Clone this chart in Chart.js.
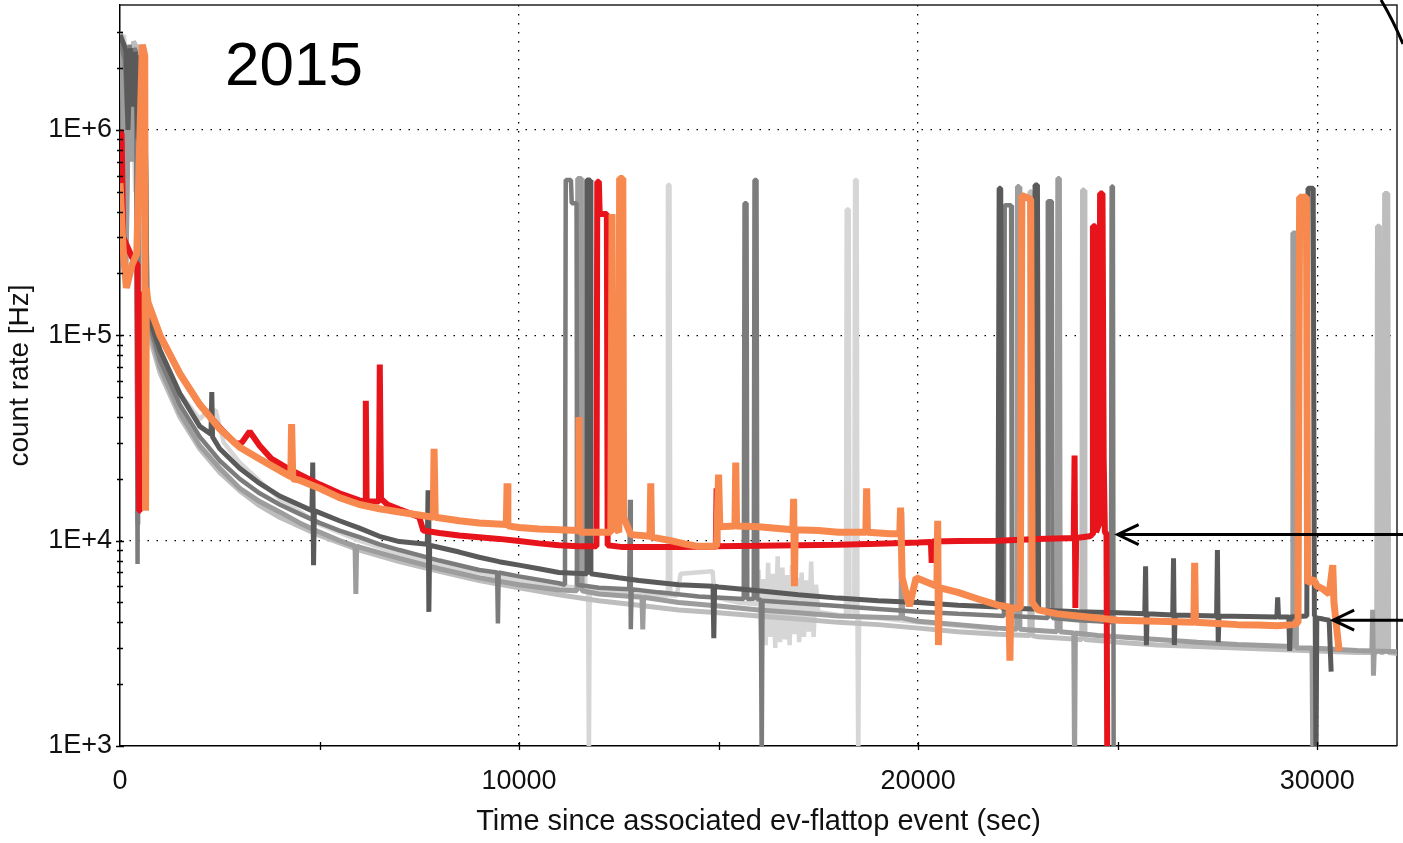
<!DOCTYPE html>
<html>
<head>
<meta charset="utf-8">
<script src="https://cdn.jsdelivr.net/npm/chart.js@4/dist/chart.umd.min.js"></script>
<style>
  html, body { margin: 0; padding: 0; background: #fff; overflow: hidden; }
  #wrap { width: 1403px; height: 843px; position: relative; }
</style>
</head>
<body>
<div id="wrap"><canvas id="c" width="1403" height="843"></canvas></div>
<script>
// ---- tick values and labels ----
const xTickValues = [0, 5000, 10000, 15000, 20000, 25000, 30000];
const xMajorTicks = [0, 10000, 20000, 30000];
const xTickLabels = ['0', '10000', '20000', '30000'];
const yMajorTicks = [1e3, 1e4, 1e5, 1e6];
const yTickLabels = ['1E+3', '1E+4', '1E+5', '1E+6'];

// ---- count-rate traces: [time (s), rate (Hz)] ----
const orangeRun = [
  [0,5.5e5],[80,2.6e5],[160,1.7e5],[300,2.2e5],[420,2.5e5],[560,2.6e6],[620,2.3e6],[640,1.4e4],[660,1.7e5],
  [700,1.45e5],[1000,1.0e5],[1500,6.5e4],[2000,4.6e4],[2500,3.5e4],[3000,2.85e4],[3500,2.5e4],[4000,2.2e4],
  [4280,2.05e4],[4300,3.7e4],[4330,2.0e4],[4500,1.97e4],[5000,1.8e4],[5500,1.62e4],[6000,1.5e4],[6500,1.43e4],
  [7000,1.38e4],[7850,1.3e4],[7870,2.8e4],[7900,1.3e4],[8500,1.25e4],[9000,1.22e4],[9680,1.2e4],[9700,1.9e4],
  [9720,1.18e4],[10000,1.16e4],[10500,1.14e4],[11000,1.13e4],[11480,1.12e4],[11500,4.0e4],[11520,1.1e4],
  [12000,1.1e4],[12300,1.1e4],[12330,3.9e5],[12360,1.2e4],[12500,1.1e4],[12520,5.8e5],[12600,5.8e5],[12620,1.3e4],
  [12800,1.07e4],[13280,1.05e4],[13300,1.9e4],[13320,1.04e4],[13800,1.0e4],[14200,9.6e3],[14450,9.4e3],
  [14950,9.4e3],[15000,2.1e4],[15030,1.17e4],[15410,1.18e4],[15430,2.4e4],[15450,1.18e4],[16000,1.17e4],
  [16860,1.13e4],[16880,1.6e4],[16900,6.0e3],[16920,1.13e4],[17500,1.12e4],[18000,1.1e4],[18690,1.1e4],
  [18710,1.8e4],[18730,1.1e4],[19300,1.08e4],[19540,1.08e4],[19560,1.45e4],[19600,6.6e3],[19780,4.8e3],
  [19950,6.6e3],[20470,6.0e3],[20490,1.25e4],[20510,3.1e3],[20530,5.9e3],[21000,5.6e3],[21500,5.2e3],
  [22000,4.85e3],[22280,4.75e3],[22300,2.6e3],[22320,4.7e3],[22560,4.7e3],[22600,4.8e5],[22820,4.6e5],
  [22860,5.0e3],[23000,4.6e3],[23500,4.4e3],[24000,4.3e3],[24500,4.2e3],[25000,4.1e3],[26000,4.05e3],
  [26910,4.0e3],[26930,7.8e3],[26950,4.0e3],[27500,3.95e3],[28000,3.9e3],[28500,3.88e3],[29000,3.85e3],
  [29400,3.9e3],[29520,4.0e3],[29560,4.7e5],[29730,4.7e5],[29760,6.2e3],[29900,6.5e3],[30000,6.0e3],
  [30150,5.8e3],[30300,5.5e3],[30390,7.6e3],[30420,5.0e3],[30550,2.9e3]
];

const redRun = [
  [0,1.0e6],[40,9.5e5],[80,3.0e5],[300,2.4e5],[440,2.2e5],[460,4.5e4],[480,1.4e4],[500,1.6e5],[640,1.5e5],
  [700,1.45e5],[1000,1.0e5],[1500,6.5e4],[2000,4.6e4],[2500,3.55e4],[2900,2.95e4],[3050,3.0e4],[3250,3.4e4],
  [3500,2.9e4],[3800,2.5e4],[4200,2.25e4],[4500,2.1e4],[5000,1.88e4],[5500,1.7e4],[6000,1.57e4],[6140,1.55e4],
  [6160,4.8e4],[6180,1.55e4],[6490,1.55e4],[6510,7.2e4],[6540,1.6e4],[6700,1.5e4],[7000,1.42e4],[7300,1.35e4],
  [7500,1.3e4],[7600,1.12e4],[8000,1.09e4],[8500,1.06e4],[9000,1.04e4],[9500,1.02e4],[10000,9.95e3],
  [10500,9.7e3],[11000,9.5e3],[11500,9.4e3],[11940,9.4e3],[11960,5.6e5],[12000,5.6e5],[12020,3.9e5],
  [12200,3.9e5],[12220,9.5e3],[12600,9.3e3],[13000,9.3e3],[14000,9.3e3],[14500,9.35e3],[14930,9.35e3],
  [14950,1.8e4],[14970,9.4e3],[16000,9.45e3],[17000,9.5e3],[18000,9.55e3],[19000,9.65e3],[20000,9.8e3],
  [20320,9.85e3],[20340,7.8e3],[20360,9.9e3],[21000,9.95e3],[22000,1.0e4],[23000,1.02e4],[23900,1.03e4],
  [23920,2.6e4],[23940,4.7e3],[23960,1.03e4],[24300,1.05e4],[24360,1.07e4],[24380,3.4e5],[24440,3.4e5],
  [24460,1.1e4],[24530,1.2e4],[24560,4.9e5],[24620,4.9e5],[24650,2.5e4],[24680,1.1e4],[24720,1.08e4],[24740,800]
];

const darkGreyRun = [
  [0,2.9e6],[100,2.6e6],[150,2.4e6],[200,1.0e6],[260,2.5e6],[330,1.3e6],[380,2.4e6],[450,9.0e5],[500,2.3e6],
  [560,2.2e6],[620,1.9e6],[680,1.3e5],
  [1000,8.5e4],[1500,5.2e4],[2000,3.6e4],[2280,3.3e4],[2300,5.3e4],[2320,3.2e4],[2500,2.8e4],[3000,2.25e4],
  [3500,1.9e4],[4000,1.65e4],[4810,1.4e4],[4830,2.4e4],[4850,7.6e3],[4870,1.4e4],[5500,1.25e4],[6000,1.15e4],
  [6500,1.05e4],[7000,9.9e3],[7700,9.6e3],[7720,1.76e4],[7740,4.5e3],[7760,9.5e3],[8500,8.8e3],[9000,8.3e3],
  [9500,7.9e3],[10000,7.6e3],[10500,7.3e3],[11000,7.0e3],[11680,6.9e3],[11700,5.7e5],[11780,5.7e5],
  [11800,6.9e3],[12500,6.6e3],[13000,6.4e3],[14000,6.1e3],[14860,6.0e3],[14880,3.35e3],[14900,6.0e3],
  [15000,5.95e3],[16000,5.7e3],[17000,5.45e3],[18000,5.25e3],[19000,5.1e3],[20000,5.0e3],[21000,4.85e3],
  [22000,4.75e3],[22030,5.2e5],[22070,5.2e5],[22100,4.7e3],[22900,4.65e3],[22930,5.4e5],[22990,5.4e5],
  [23020,4.6e3],[24000,4.5e3],[25000,4.45e3],[25680,4.4e3],[25700,7.5e3],[25720,3.1e3],[25740,4.4e3],
  [26380,4.35e3],[26400,8.2e3],[26420,3.1e3],[26440,4.35e3],[27480,4.3e3],[27500,9.0e3],[27520,3.2e3],
  [27540,4.3e3],[28990,4.25e3],[29010,5.3e3],[29030,4.25e3],[29290,4.25e3],[29310,2.9e3],[29330,4.25e3],
  [29740,4.3e3],[29770,5.2e5],[29900,5.2e5],[29930,4.3e3],[29950,4.3e3],[29970,800],[29990,4.2e3],
  [30150,4.15e3],[30300,4.1e3],[30350,2.3e3]
];

const greyRun = [
  [0,2.7e6],[120,2.2e6],[180,1.2e6],[240,2.6e6],[300,1.6e6],[360,2.5e6],[400,2.4e6],[440,7.7e3],[470,2.3e6],
  [540,1.1e6],[600,2.1e6],[640,4.0e5],
  [670,1.25e5],[1000,7.6e4],[1500,4.6e4],[2000,3.2e4],[2500,2.45e4],[3000,2.0e4],[3500,1.7e4],[4000,1.5e4],
  [4500,1.35e4],[5000,1.22e4],[5500,1.12e4],[6000,1.04e4],[6500,9.6e3],[7000,9.0e3],[8000,8.0e3],[9000,7.2e3],
  [9450,7.0e3],[9470,3.95e3],[9490,7.0e3],[10000,6.7e3],[11000,6.2e3],[11150,6.1e3],[11170,5.7e5],[11300,5.7e5],
  [11320,4.4e5],[11440,4.4e5],[11460,6.1e3],[12000,5.9e3],[12760,5.8e3],[12780,1.58e4],[12800,3.7e3],
  [12820,5.8e3],[13500,5.6e3],[14500,5.35e3],[15630,5.2e3],[15650,4.4e5],[15700,4.4e5],[15720,5.2e3],
  [15880,5.2e3],[15900,5.7e5],[15950,5.7e5],[15970,5.2e3],[16060,5.15e3],[16080,800],[16100,5.1e3],
  [17000,4.95e3],[18000,4.8e3],[19000,4.65e3],[20000,4.5e3],[21000,4.4e3],[22150,4.3e3],[22170,4.3e5],
  [22330,4.3e5],[22350,4.3e3],[23230,4.2e3],[23250,4.5e5],[23350,4.5e5],[23370,4.2e3],[24000,4.1e3],
  [24500,4.05e3],[24830,4.0e3],[24850,5.3e5],[24880,5.3e5],[24900,800]
];

const midGreyRun = [
  [0,2.5e6],[60,2.0e6],[120,5.0e5],[150,2.0e5],[230,2.3e6],[290,7.0e5],[340,2.2e6],[400,2.1e6],[450,1.2e4],
  [480,2.0e6],[560,1.4e6],[600,1.9e6],
  [650,6.0e5],[680,1.2e5],[1000,7.0e4],[1500,4.2e4],[2000,2.9e4],[2500,2.25e4],[3000,1.8e4],[3500,1.55e4],
  [4000,1.38e4],[4500,1.22e4],[5000,1.1e4],[5500,1.0e4],[5890,9.4e3],[5910,5.5e3],[5930,9.4e3],[6000,9.3e3],
  [7000,8.2e3],[8000,7.3e3],[9000,6.6e3],[10000,6.1e3],[11000,5.75e3],[11450,5.7e3],[11470,5.8e5],[11560,5.8e5],
  [11580,5.7e3],[12000,5.5e3],[13080,5.3e3],[13100,3.7e3],[13120,5.3e3],[14000,5.0e3],[15000,4.8e3],
  [16000,4.6e3],[17000,4.45e3],[18000,4.3e3],[19570,4.2e3],[19590,1.38e4],[19610,4.2e3],[20000,4.05e3],
  [21000,3.9e3],[22000,3.75e3],[22470,3.7e3],[22490,5.3e5],[22530,5.3e5],[22550,3.7e3],[23480,3.6e3],
  [23500,5.8e5],[23540,5.8e5],[23560,3.6e3],[23900,3.55e3],[23920,800],[23940,3.55e3],[24500,3.45e3],
  [25000,3.4e3],[26000,3.3e3],[27000,3.2e3],[28000,3.12e3],[29370,3.05e3],[29390,3.15e5],[29460,3.15e5],
  [29480,3.0e3],[29870,3.0e3],[29890,800],[29910,3.0e3],[30500,2.95e3],[31000,2.92e3],[31370,2.9e3],
  [31390,4.6e3],[31410,2.2e3],[31430,2.9e3],[32000,2.88e3]
];

const lightGreyRun = [
  [0,3.0e6],[60,2.8e6],[100,1.0e6],[160,3.0e5],[220,2.6e6],[280,1.8e6],[340,2.7e6],[420,2.5e6],[460,1.6e4],
  [480,2.4e6],[520,2.6e6],[600,2.2e6],
  [640,1.0e6],[670,1.1e5],[1000,6.6e4],[1500,4.0e4],[2000,2.8e4],[2500,2.15e4],[3000,1.75e4],[3500,1.48e4],
  [4000,1.3e4],[5000,1.06e4],[6000,9.0e3],[7000,7.9e3],[8000,7.1e3],[9000,6.4e3],[10000,5.9e3],[11000,5.45e3],
  [12000,5.1e3],[13000,4.85e3],[14000,4.6e3],[15000,4.45e3],[16000,4.3e3],[17000,4.15e3],[18000,4.0e3],
  [19000,3.9e3],[20000,3.75e3],[21000,3.6e3],[22000,3.5e3],[22780,3.45e3],[22800,5.0e5],[22840,5.0e5],
  [22860,3.45e3],[23000,3.4e3],[24100,3.3e3],[24120,5.1e5],[24160,5.1e5],[24180,3.3e3],[25000,3.2e3],
  [26000,3.1e3],[27000,3.05e3],[28000,3.0e3],[29000,2.95e3],[30000,2.9e3],[31000,2.85e3],[31490,2.85e3],
  [31510,3.4e5],[31560,3.4e5],[31580,2.85e3],[31670,2.85e3],[31690,4.9e5],[31770,4.9e5],[31790,2.85e3],
  [32000,2.82e3]
];

const paleGreyRun = [
  [0,2.2e6],[100,2.9e6],[200,1.4e6],[300,2.4e6],[380,5.0e5],[420,2.3e6],[500,2.2e6],[560,1.3e5],[700,1.2e5],
  [1000,8.2e4],[1500,5.2e4],
  [2000,3.9e4],[2200,4.3e4],[2400,4.3e4],[2600,3.0e4],[3000,2.4e4],[3500,1.95e4],[4000,1.6e4],[5000,1.2e4],
  [6000,1.0e4],[7000,8.6e3],[8000,7.6e3],[9000,7.0e3],[10000,6.4e3],[11000,6.0e3],[11580,5.9e3],[11600,5.7e5],
  [11640,5.7e5],[11660,5.9e3],[11730,5.9e3],[11750,800],[11770,5.8e3],[12500,5.6e3],[13000,5.45e3],
  [13710,5.4e3],[13730,5.4e5],[13770,5.4e5],[13790,5.4e3],[13950,5.4e3],[14050,6.9e3],[14850,7.1e3],
  [14900,5.3e3],[15500,5.0e3],[15950,4.9e3],[16000,7.2e3],[16060,3.3e3],[16120,6.5e3],[16180,3.1e3],
  [16240,7.8e3],[16300,3.4e3],[16360,6.9e3],[16420,3.0e3],[16480,8.4e3],[16540,3.2e3],[16600,7.4e3],
  [16660,3.3e3],[16720,6.8e3],[16780,3.1e3],[16840,7.6e3],[16900,3.5e3],[16960,6.6e3],[17020,3.2e3],
  [17080,7.0e3],[17140,3.4e3],[17200,6.4e3],[17260,3.6e3],[17320,7.9e3],[17380,3.4e3],[17440,6.1e3],
  [17500,4.5e3],[18000,4.35e3],[18190,4.3e3],[18210,4.1e5],[18260,4.1e5],[18280,4.3e3],[18400,4.3e3],
  [18420,5.7e5],[18460,5.7e5],[18480,4.3e3],[18500,800],[18520,4.25e3],[19000,4.2e3],[20000,4.0e3],
  [21000,3.85e3],[22000,3.7e3]
];

// points the two arrows indicate: [time (s), rate (Hz)]
const arrowTargets = [[25000, 1.07e4], [30400, 4.1e3]];

const toPoints = run => run.map(([x, y]) => ({ x, y }));

function trace(run, color, width) {
  return {
    data: toPoints(run),
    borderColor: color,
    borderWidth: width,
    pointRadius: 0,
    tension: 0,
    borderJoinStyle: 'bevel',
    clip: 0,
    parsing: false
  };
}

const FONT = '"Liberation Sans", Arial, Helvetica, sans-serif';

// plot frame, axis tick marks, arrows and year label
const decorations = {
  id: 'decorations',
  beforeDatasetsDraw(chart) {
    const { ctx, chartArea: a } = chart;
    ctx.save();
    ctx.strokeStyle = '#222';
    ctx.lineWidth = 1.5;
    ctx.beginPath();
    ctx.moveTo(a.left, a.top);
    ctx.lineTo(a.right, a.top);
    ctx.lineTo(a.right, a.bottom);
    ctx.stroke();
    ctx.restore();
  },
  afterDraw(chart) {
    const { ctx, chartArea: a, scales: { x, y } } = chart;
    ctx.save();
    ctx.strokeStyle = '#000';
    ctx.lineWidth = 1.3;
    ctx.beginPath();
    y.ticks.forEach(t => {
      const py = Math.round(y.getPixelForValue(t.value)) + 0.5;
      const len = yMajorTicks.includes(t.value) ? 4 : 3;
      ctx.moveTo(a.left - len, py);
      ctx.lineTo(a.left + len, py);
    });
    x.ticks.forEach(t => {
      if (t.value === 0) return;
      const px = Math.round(x.getPixelForValue(t.value)) + 0.5;
      ctx.moveTo(px, a.bottom - 4);
      ctx.lineTo(px, a.bottom + 4);
    });
    ctx.stroke();

    // arrows from the right edge
    ctx.lineWidth = 3;
    ctx.strokeStyle = '#000';
    arrowTargets.forEach(([tx, ty]) => {
      const px = x.getPixelForValue(tx);
      const py = y.getPixelForValue(ty);
      ctx.beginPath();
      ctx.moveTo(chart.width, py);
      ctx.lineTo(px, py);
      ctx.moveTo(px + 21, py - 10);
      ctx.lineTo(px, py);
      ctx.lineTo(px + 21, py + 10);
      ctx.stroke();
    });

    // bracket stroke at the top right corner
    ctx.beginPath();
    ctx.moveTo(chart.width - 22, 0);
    ctx.quadraticCurveTo(chart.width - 10, 20, chart.width, 44);
    ctx.stroke();

    // year label
    ctx.fillStyle = '#000';
    ctx.font = '62px ' + FONT;
    ctx.textBaseline = 'alphabetic';
    ctx.textAlign = 'left';
    ctx.fillText('2015', 225, 85);
    ctx.restore();
  }
};

// log-axis ticks: every 1..9 multiple of each decade
const yTickValues = [];
for (let d = 1e3; d <= 1e6; d *= 10) {
  for (let m = 1; m <= 9; m++) {
    const v = m * d;
    if (v <= 3e6) yTickValues.push(v);
  }
}

const noEdgePadding = s => { s.paddingTop = 0; s.paddingBottom = 0; s.paddingLeft = 0; s.paddingRight = 0; };

new Chart(document.getElementById('c'), {
  type: 'line',
  data: {
    datasets: [
      trace(orangeRun, '#f7894f', 7),
      trace(redRun, '#e8141b', 6),
      trace(darkGreyRun, '#5a5a5a', 5),
      trace(greyRun, '#7c7c7c', 4.5),
      trace(midGreyRun, '#9d9d9d', 5),
      trace(lightGreyRun, '#bdbdbd', 5),
      trace(paleGreyRun, '#d6d6d6', 4.5)
    ]
  },
  options: {
    responsive: false,
    animation: false,
    devicePixelRatio: 1,
    layout: { padding: { top: 5, right: 6, left: 0, bottom: 0 } },
    plugins: { legend: { display: false }, tooltip: { enabled: false } },
    scales: {
      x: {
        type: 'linear',
        min: 0,
        max: 32000,
        afterFit: s => { s.height = 97; noEdgePadding(s); },
        afterBuildTicks: s => { s.ticks = xTickValues.map(v => ({ value: v })); },
        ticks: {
          autoSkip: false,
          maxRotation: 0,
          padding: 19,
          color: '#111',
          font: { family: FONT, size: 27 },
          callback: v => { const i = xMajorTicks.indexOf(v); return i >= 0 ? xTickLabels[i] : ''; }
        },
        grid: {
          drawTicks: false,
          lineWidth: 1.3,
          color: c => (c.tick && [10000, 20000, 30000].includes(c.tick.value)) ? '#000' : 'rgba(0,0,0,0)'
        },
        border: { display: true, color: '#000', width: 1.5, dash: [1.5, 7.5] },
        title: {
          display: true,
          text: 'Time since associated ev-flattop event (sec)',
          color: '#111',
          font: { family: FONT, size: 29 },
          padding: { top: 0, bottom: 4 }
        }
      },
      y: {
        type: 'logarithmic',
        min: 1000,
        max: 4.06e6,
        afterFit: s => { s.width = 120; noEdgePadding(s); },
        afterBuildTicks: s => { s.ticks = yTickValues.map(v => ({ value: v })); },
        ticks: {
          autoSkip: false,
          padding: 8,
          color: '#111',
          font: { family: FONT, size: 27 },
          callback: v => { const i = yMajorTicks.indexOf(v); return i >= 0 ? yTickLabels[i] : ''; }
        },
        grid: {
          drawTicks: false,
          lineWidth: 1.3,
          color: c => (c.tick && [1e4, 1e5, 1e6].includes(c.tick.value)) ? '#000' : 'rgba(0,0,0,0)'
        },
        border: { display: true, color: '#000', width: 1.5, dash: [1.5, 7.5] },
        title: {
          display: true,
          text: 'count rate [Hz]',
          color: '#111',
          font: { family: FONT, size: 28 },
          padding: { top: 3, bottom: 0 }
        }
      }
    }
  },
  plugins: [decorations]
});
</script>
</body>
</html>
